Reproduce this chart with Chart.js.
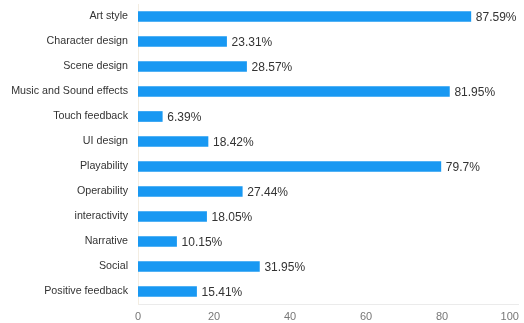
<!DOCTYPE html>
<html>
<head>
<meta charset="utf-8">
<script src="https://cdn.jsdelivr.net/npm/chart.js@4.4.1/dist/chart.umd.min.js"></script>
<style>
  html, body { margin: 0; padding: 0; background: #fff; }
  #wrap { width: 524px; height: 323px; }
</style>
</head>
<body>
<div id="wrap"><canvas id="chart" width="524" height="323"></canvas></div>
<script>
const categories = [
  "Art style",
  "Character design",
  "Scene design",
  "Music and Sound effects",
  "Touch feedback",
  "UI design",
  "Playability",
  "Operability",
  "interactivity",
  "Narrative",
  "Social",
  "Positive feedback",
];
const values = [87.59, 23.31, 28.57, 81.95, 6.39, 18.42, 79.7, 27.44, 18.05, 10.15, 31.95, 15.41];
const xTicks = [0, 20, 40, 60, 80, 100];

const fontFamily = "'Liberation Sans', Arial, sans-serif";

// value labels after each bar
const valueLabels = {
  id: "valueLabels",
  afterDatasetsDraw(chart) {
    const ctx = chart.ctx;
    const meta = chart.getDatasetMeta(0);
    ctx.save();
    ctx.font = "12px " + fontFamily;
    ctx.fillStyle = "#333";
    ctx.textAlign = "left";
    ctx.textBaseline = "middle";
    meta.data.forEach((bar, i) => {
      ctx.fillText(values[i] + "%", bar.x + 5, bar.y + 1);
    });
    ctx.restore();
  },
};

new Chart(document.getElementById("chart"), {
  type: "bar",
  data: {
    labels: categories,
    datasets: [
      {
        data: values,
        backgroundColor: "rgb(24, 152, 242)",
        barThickness: 10,
      },
    ],
  },
  options: {
    indexAxis: "y",
    responsive: false,
    animation: false,
    layout: { padding: { top: 4, right: 6, left: 0, bottom: 0 } },
    plugins: {
      legend: { display: false },
      tooltip: { enabled: false },
    },
    scales: {
      x: {
        min: 0,
        max: 100,
        afterBuildTicks: (scale) => {
          scale.ticks = xTicks.map((v) => ({ value: v }));
        },
        afterFit: (scale) => {
          scale.height = 19;
          scale.paddingLeft = 0;
          scale.paddingRight = 0;
        },
        grid: { display: false, drawTicks: false },
        border: { display: true, color: "#ebebeb" },
        ticks: {
          padding: 6,
          color: "#777",
          font: { family: fontFamily, size: 11 },
          // last label sits inside the plot edge
          callback: (v) => (v === 100 ? "100\u2002\u2002\u2002" : String(v)),
        },
      },
      y: {
        afterFit: (scale) => {
          scale.width = 138;
          scale.paddingTop = 0;
          scale.paddingBottom = 0;
        },
        grid: { display: false, drawTicks: false },
        border: { display: true, color: "#f3ede2" },
        ticks: {
          padding: 10,
          color: "#333",
          font: { family: fontFamily, size: 10.7 },
        },
      },
    },
  },
  plugins: [valueLabels],
});
</script>
</body>
</html>
